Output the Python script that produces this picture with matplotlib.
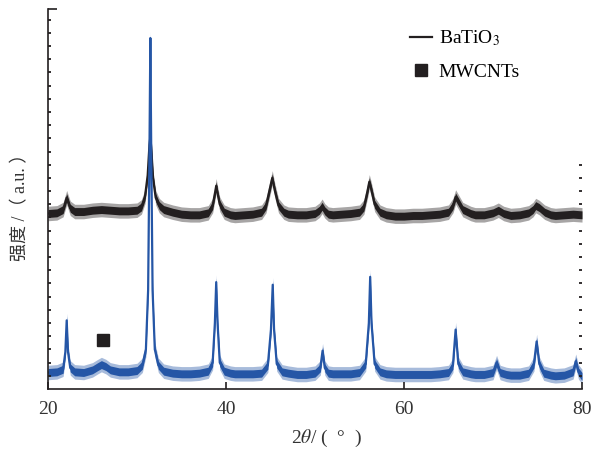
import matplotlib
matplotlib.use('Agg')
import matplotlib.pyplot as plt
from matplotlib.lines import Line2D
from matplotlib.ticker import FixedLocator, NullFormatter
import numpy as np

# XRD patterns (2theta in degrees, intensity in a.u.)
tt_bto = [20, 21, 21.7, 22.1, 22.5, 23, 24, 25, 26, 27, 28, 29, 30, 30.5, 30.9, 31.2, 31.4, 31.5,
          31.6, 31.8, 32.1, 32.5, 33, 34, 35, 36, 37, 38, 38.5, 38.8, 38.9, 39.0, 39.3, 39.8, 40.5,
          41, 42, 43, 44, 44.5, 44.9, 45.2, 45.5, 45.9, 46.5, 47, 48, 49, 50, 50.5, 50.8, 51.1, 51.5,
          52, 53, 54, 55, 55.5, 55.9, 56.1, 56.3, 56.7, 57.3, 58, 59, 60, 61, 62, 63, 64, 65, 65.5,
          65.8, 66.1, 66.6, 67.5, 68, 69, 70, 70.6, 71.2, 72, 73, 74, 74.5, 74.8, 75.2, 75.8, 76.5,
          77, 78, 79, 80]
int_bto = [13.3, 13.35, 13.6, 14.5, 13.7, 13.45, 13.45, 13.55, 13.6, 13.55, 13.5, 13.5, 13.55, 13.8,
           14.6, 16.2, 18.5, 19.1, 18.3, 16.0, 14.5, 13.9, 13.6, 13.4, 13.25, 13.2, 13.2, 13.35,
           13.9, 15.0, 15.4, 15.0, 14.0, 13.4, 13.2, 13.15, 13.2, 13.25, 13.4, 13.9, 15.1, 16.0,
           15.0, 13.9, 13.4, 13.25, 13.2, 13.2, 13.3, 13.55, 13.85, 13.5, 13.25, 13.2, 13.25, 13.3,
           13.4, 13.8, 15.0, 15.7, 15.2, 14.0, 13.4, 13.2, 13.1, 13.1, 13.15, 13.15, 13.2, 13.25,
           13.4, 13.9, 14.55, 14.2, 13.6, 13.3, 13.2, 13.2, 13.35, 13.55, 13.3, 13.15, 13.2, 13.35,
           13.6, 13.9, 13.75, 13.4, 13.2, 13.15, 13.2, 13.25, 13.2]

tt_cnt = [20, 21, 21.7, 21.95, 22.1, 22.25, 22.5, 23, 24, 25, 25.6, 26, 26.5, 27, 28, 29, 30, 30.6,
          31.0, 31.25, 31.4, 31.5, 31.6, 31.75, 32.0, 32.4, 33, 34, 35, 36, 37, 38, 38.5, 38.75,
          38.9, 39.05, 39.3, 39.8, 40.5, 41, 42, 43, 44, 44.7, 45.05, 45.25, 45.4, 45.7, 46.3, 47,
          48, 49, 50, 50.6, 50.85, 51.1, 51.5, 52, 53, 54, 55, 55.7, 56.05, 56.2, 56.35, 56.7, 57.3,
          58, 59, 60, 61, 62, 63, 64, 65, 65.5, 65.8, 66.1, 66.6, 67.5, 68, 69, 70, 70.4, 70.8,
          71.5, 72, 73, 74, 74.6, 74.9, 75.2, 75.7, 76.5, 77, 78, 79, 79.3, 79.6, 80]
int_cnt = [1.25, 1.3, 1.5, 2.8, 5.2, 2.8, 1.6, 1.3, 1.25, 1.45, 1.7, 1.85, 1.7, 1.45, 1.3, 1.3, 1.4,
           1.8, 3.0, 7.5, 18.0, 26.6, 18.0, 7.5, 3.0, 1.8, 1.35, 1.2, 1.15, 1.15, 1.2, 1.35, 2.0,
           5.0, 8.1, 5.0, 2.0, 1.35, 1.2, 1.15, 1.15, 1.15, 1.2, 1.8, 4.5, 7.9, 4.5, 1.9, 1.3, 1.2,
           1.1, 1.1, 1.2, 1.6, 2.9, 1.6, 1.2, 1.15, 1.15, 1.15, 1.25, 1.9, 5.0, 8.5, 5.0, 1.9,
           1.3, 1.15, 1.1, 1.1, 1.1, 1.1, 1.1, 1.15, 1.25, 1.8, 4.5, 1.9, 1.3, 1.15, 1.1, 1.1, 1.25,
           2.0, 1.25, 1.1, 1.05, 1.05, 1.2, 1.9, 3.6, 1.9, 1.2, 1.05, 1.0, 1.05, 1.3, 2.1, 1.3, 0.95]

cnt_mark = (26.2, 3.75)
xticks = [20, 40, 60, 80]

black = '#231f20'
blue = '#2556a6'

plt.rcParams['font.family'] = ['Liberation Serif', 'Noto Sans CJK SC']
plt.rcParams['mathtext.fontset'] = 'stix'

fig = plt.figure(figsize=(5.93, 4.53), dpi=100)
ax = fig.add_axes([48/593, 1-389/453, 534/593, 380/453])

for tt, y, c in [(tt_bto, int_bto, black), (tt_cnt, int_cnt, blue)]:
    tt = np.array(tt)
    y = np.array(y)
    ax.fill_between(tt, y-0.55, y+0.55, color=c, alpha=0.4, lw=0)
    ax.fill_between(tt, y-0.3, y+0.3, color=c, lw=0)
    ax.plot(tt, y, color=c, lw=1.6)

ax.plot(*cnt_mark, marker='s', ms=8, color=black, ls='none')

ax.set_xlim(20, 80)
ax.set_ylim(0, 28.8)

for s in ['top', 'right']:
    ax.spines[s].set_visible(False)
for s in ['left', 'bottom']:
    ax.spines[s].set_linewidth(1.2)
    ax.spines[s].set_color(black)

ax.set_xticks(xticks)
ax.tick_params(axis='x', direction='in', length=5, width=1.2, color=black,
               labelsize=14, pad=9, labelcolor='#333333')
ax.yaxis.set_major_locator(FixedLocator([28.8]))
ax.yaxis.set_minor_locator(FixedLocator(range(1, 29)))
ax.yaxis.set_major_formatter(NullFormatter())
ax.tick_params(axis='y', which='major', direction='in', length=6.5, width=1.2, color=black)
ax.tick_params(axis='y', which='minor', direction='in', length=1.8, width=1.3, color=black)

ax2 = ax.twinx()
ax2.set_ylim(0, 28.8)
for s in ax2.spines.values():
    s.set_visible(False)
ax2.yaxis.set_major_locator(FixedLocator([]))
ax2.yaxis.set_minor_locator(FixedLocator(range(1, 18)))
ax2.tick_params(axis='y', which='minor', direction='in', length=2.5, width=1.3, color=black)

handles = [Line2D([], [], color=black, lw=1.6),
           Line2D([], [], color=black, marker='s', ms=8, ls='none')]
ax.legend(handles, ['BaTiO$_3$', 'MWCNTs'], loc='upper left', bbox_to_anchor=(0.677, 0.948),
          frameon=False, fontsize=14, handlelength=1.15, handletextpad=0.35,
          labelspacing=0.78, borderpad=0, borderaxespad=0)

fig.text(326/593, 1-438/453, r'2$\mathit{\theta}$/ (  °  )', ha='center', va='center',
         fontsize=14, color='#333333')
fig.text(21/593, 1-203/453, '强度 /（ a.u. ）', rotation=90, ha='center', va='center',
         fontsize=13, color='#333333')

fig.savefig('out.png', dpi=100)
